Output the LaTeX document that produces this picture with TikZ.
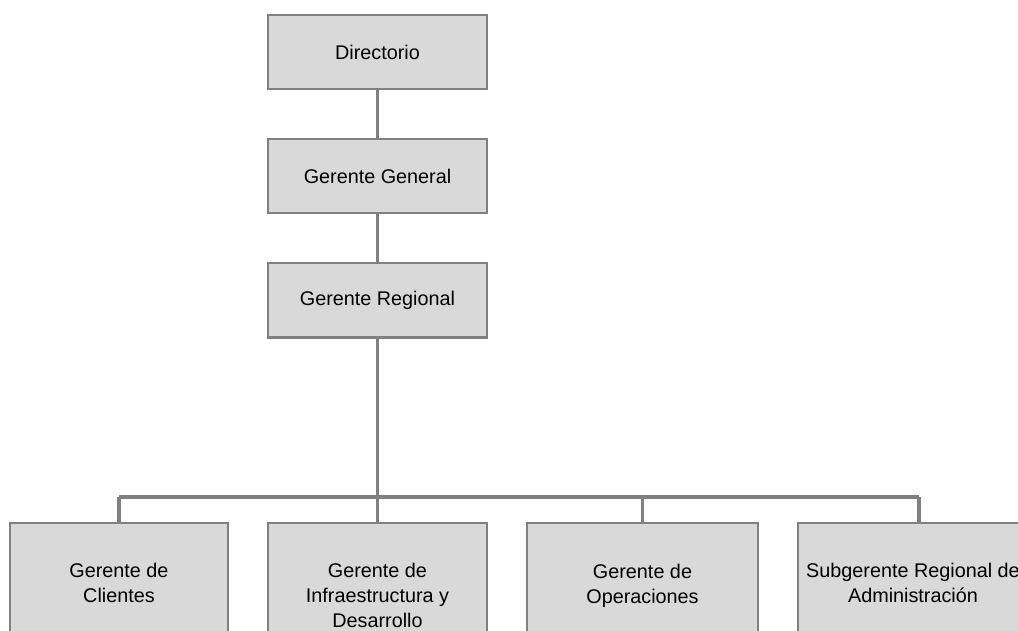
\documentclass[tikz,border=0pt]{standalone}
\usepackage{fontspec}
\setmainfont{Liberation Sans}
\usetikzlibrary{positioning}
\definecolor{boxfill}{HTML}{D9D9D9}
\definecolor{boxline}{HTML}{808080}

\begin{document}
\begin{tikzpicture}[x=1pt, y=-1pt,
  unit/.style={draw=boxline, fill=boxfill, line width=2.2pt, rectangle,
    minimum width=219pt, minimum height=74pt, align=center,
    font=\fontsize{19.8}{25}\selectfont},
  link/.style={draw=boxline, line width=3.4pt}]
\clip (0,0) rectangle (1018,631);
% --- upper chain ---
\node[unit] (dir) at (377.5,52) {Directorio};
\node[unit, below=48pt of dir] (gg) {Gerente General};
\node[unit, below=48pt of gg] (gr) {Gerente Regional};
\draw[link] (dir) -- (gg);
\draw[link] (gg) -- (gr);
% --- lower row ---
\node[unit, anchor=north, minimum width=218pt, minimum height=120pt] (g1) at (119,522) {Gerente de\\Clientes};
\node[unit, anchor=north, minimum height=144pt] (g2) at (377.5,522) {Gerente de\\Infraestructura y\\Desarrollo};
\node[unit, anchor=north, minimum width=231pt, minimum height=125pt] (g3) at (642.5,522) {Gerente de\\Operaciones};
\node[unit, anchor=north, minimum width=230pt, minimum height=120pt] (g4) at (913,522) {Subgerente Regional de\\Administración};
\coordinate (bar) at (377.5,497);
\coordinate (d4) at (919,522);
\draw[link] (gr) -- (bar);
\draw[link] (bar -| g1.north) -- (bar -| d4);
\foreach \g in {g1,g2,g3} {
  \draw[link] (bar -| \g.north) -- (\g.north);
}
\draw[link] (bar -| d4) -- (d4);
\end{tikzpicture}
\end{document}
